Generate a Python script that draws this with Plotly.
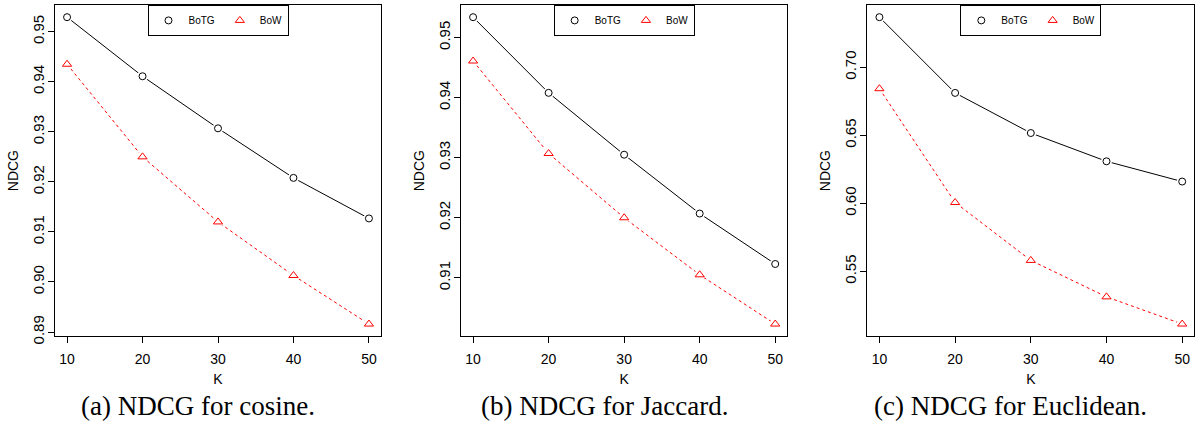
import plotly.graph_objects as go

# ---- data ----
K = [10, 20, 30, 40, 50]

cos_botg = [0.9529, 0.9411, 0.9307, 0.9208, 0.9127]
cos_bow = [0.9435, 0.9250, 0.9120, 0.9013, 0.8916]

jac_botg = [0.9534, 0.9408, 0.9305, 0.9207, 0.9123]
jac_bow = [0.9461, 0.9307, 0.9200, 0.9105, 0.9023]

euc_botg = [0.7369, 0.6812, 0.6517, 0.6309, 0.6160]
euc_bow = [0.6843, 0.6006, 0.5580, 0.5312, 0.5112]

captions = ["(a) NDCG for cosine.", "(b) NDCG for Jaccard.", "(c) NDCG for Euclidean."]
series_names = ["BoTG", "BoW"]
x_ticks = [10, 20, 30, 40, 50]
y_ticks = [
    [0.89, 0.90, 0.91, 0.92, 0.93, 0.94, 0.95],
    [0.91, 0.92, 0.93, 0.94, 0.95],
    [0.55, 0.60, 0.65, 0.70],
]

panels = [(cos_botg, cos_bow), (jac_botg, jac_bow), (euc_botg, euc_bow)]

# ---- layout geometry (pixels in 1199x430 figure) ----
W, H = 1199, 430
x_px = [(55, 381), (461, 787.3), (867.3, 1194.3)]
y_top, y_bot = 5, 342.7
caption_cx = [198, 604, 1010.7]
caption_cy = 414

SANS = "Liberation Sans, Arial, sans-serif"
SERIF = "Liberation Serif, Times New Roman, serif"

fig = go.Figure()


def r_range(values, frac=0.04):
    lo, hi = min(values), max(values)
    pad = (hi - lo) * frac
    return [lo - pad, hi + pad]


xr = r_range(K)
styles = [
    dict(color="black", dash="solid", symbol="circle-open", size=7),
    dict(color="#ff0000", dash="dot", symbol="triangle-up-open", size=8),
]

for i, (botg, bow) in enumerate(panels):
    xa = "x" if i == 0 else f"x{i+1}"
    ya = "y" if i == 0 else f"y{i+1}"
    leg = "legend" if i == 0 else f"legend{i+1}"
    for name, vals, st in zip(series_names, (botg, bow), styles):
        # connecting line
        fig.add_trace(go.Scatter(
            x=K, y=vals, mode="lines", xaxis=xa, yaxis=ya,
            line=dict(color=st["color"], width=1, dash=st["dash"]),
            showlegend=False, hoverinfo="skip"))
        # white gap around points (R type="b")
        fig.add_trace(go.Scatter(
            x=K, y=vals, mode="markers", xaxis=xa, yaxis=ya,
            marker=dict(symbol="circle", size=11, color="white", line=dict(width=0)),
            showlegend=False, hoverinfo="skip"))
        # points
        fig.add_trace(go.Scatter(
            x=K, y=vals, mode="markers", xaxis=xa, yaxis=ya, name=name,
            marker=dict(symbol=st["symbol"], size=st["size"], color=st["color"],
                        line=dict(width=1, color=st["color"])),
            legend=leg, showlegend=True))

    yr = r_range(list(botg) + list(bow))
    x0, x1 = x_px[i]
    dom_x = [x0 / W, x1 / W]
    dom_y = [1 - y_bot / H, 1 - y_top / H]
    axis_common = dict(showgrid=False, zeroline=False, showline=True, mirror=True,
                       linecolor="black", linewidth=1, ticks="outside", ticklen=6,
                       tickcolor="black", tickwidth=1)
    fig.update_layout({
        ("xaxis" if i == 0 else f"xaxis{i+1}"): dict(
            domain=dom_x, range=xr, anchor=ya, tickmode="array", tickvals=x_ticks,
            tickfont=dict(family=SANS, size=14, color="black"), ticklabelstandoff=4,
            title=dict(text="K", font=dict(family=SANS, size=14, color="black"), standoff=8),
            **axis_common),
        ("yaxis" if i == 0 else f"yaxis{i+1}"): dict(
            domain=dom_y, range=yr, anchor=xa, tickmode="array", tickvals=y_ticks[i],
            tickformat=".2f", tickangle=-90, ticklabelstandoff=-2,
            tickfont=dict(family=SANS, size=15, color="black"),
            title=dict(text="NDCG", font=dict(family=SANS, size=14, color="black"), standoff=8),
            **axis_common),
        leg: dict(
            x=(x0 + x1) / 2 / W, y=1 - y_top / H, xanchor="center", yanchor="top",
            orientation="h", bgcolor="white", bordercolor="black", borderwidth=1,
            font=dict(family=SANS, size=10, color="black"),
            itemwidth=30, tracegroupgap=0),
    })
    fig.add_annotation(
        x=caption_cx[i] / W, y=1 - caption_cy / H, xref="paper", yref="paper",
        text=captions[i], showarrow=False, xanchor="center", yanchor="middle",
        font=dict(family=SERIF, size=27, color="black"))

fig.update_layout(
    width=W, height=H, margin=dict(l=0, r=0, t=0, b=0),
    paper_bgcolor="white", plot_bgcolor="white", showlegend=True,
)

fig.write_html("out.html", config={"displayModeBar": False},
               post_script="document.body.style.margin='0';")
